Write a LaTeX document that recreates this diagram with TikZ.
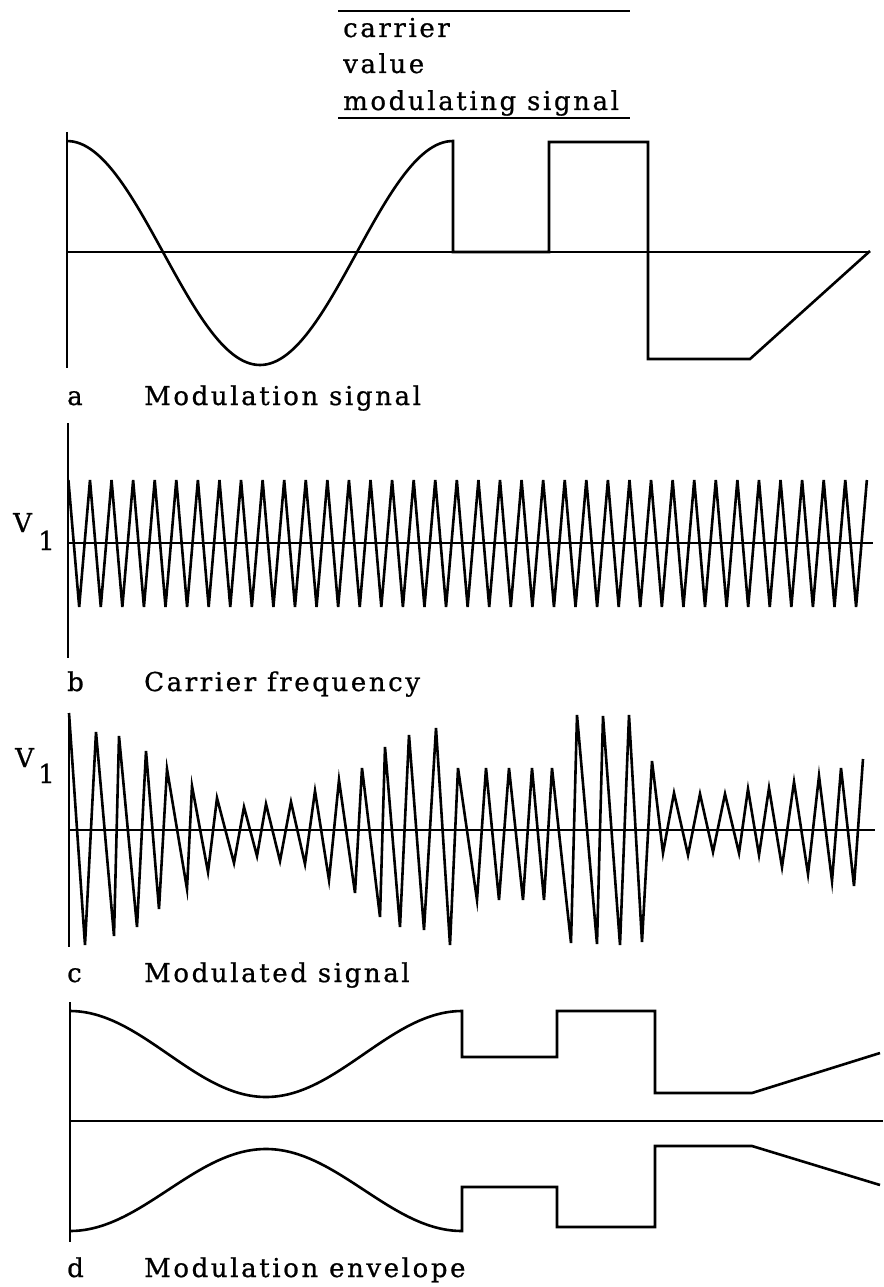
\documentclass[tikz,border=0pt]{standalone}
\usepackage{fontspec}
\setmainfont{DejaVu Serif}[LetterSpace=10,FakeBold=0.8]
\begin{document}
\begin{tikzpicture}[x=1pt,y=-1pt,
  lbl/.style={inner sep=0pt,anchor=base west,font=\fontsize{26}{30}\selectfont},
  axis/.style={line width=2.2pt},
  wave/.style={line width=2.6pt,line join=miter}]
\useasboundingbox (0,0) rectangle (883,1287);
% top legend
\draw[axis] (338,11) coordinate (ovl) -- (630,11) coordinate (ovr);
\node[lbl] (tcar) at (343,37) {carrier};
\node[lbl] (tval) at (343,73) {value};
\node[lbl] (tmod) at (343,110) {modulating signal};
\draw[axis] (338,118) coordinate (unl) -- (630,118) coordinate (unr);
% panel a
\draw[axis] (67,132) -- (67,368);
\draw[axis] (67,252) -- (870,252);
\draw[wave] plot[domain=67:453,samples=80,smooth] (\x,{253-112*cos((\x-67)*0.932642)})
  -- (453,252) -- (549,252) -- (549,142) -- (648,142) -- (648,359) -- (750,359) -- (870,251);
\node[lbl] (la) at (67,405) {a};
\node[lbl] (ta) at (144,405) {Modulation signal};
% panel b
\draw[axis] (68,423) -- (68,658);
\draw[axis] (68,543) -- (873,543);
\draw[wave] (68.4,480) \foreach \k in {0,...,36} { -- ({68.4+21.58*(\k+0.5)},607) -- ({68.4+21.58*(\k+1)},480) };
\node[lbl] (vb) at (13,532) {V};
\node[lbl] (vbs) at (38,550) {1};
\node[lbl] (lb) at (67,691) {b};
\node[lbl] (tb) at (144,691) {Carrier frequency};
% panel c
\draw[axis] (69,713) -- (69,947);
\draw[axis] (69,830) -- (875,830);
\draw[wave] (69,713) -- (85,945) -- (96,732) -- (114,936) -- (119,736) -- (137,927) -- (146,751) -- (159,909)
 -- (167,769) -- (187,889) -- (192,786) -- (208,872) -- (217,798) -- (234,863) -- (244,807) -- (257,856)
 -- (266,804) -- (280,861) -- (291,802) -- (305,864) -- (315,791) -- (329,880) -- (339,780) -- (355,893)
 -- (362,768) -- (380,917) -- (385,747) -- (400,927) -- (409,735) -- (424,930) -- (436,728) -- (450,945)
 -- (458,768) -- (477,900) -- (486,768) -- (499,900) -- (509,768) -- (523,900) -- (532,768) -- (544,900)
 -- (552,768) -- (571,943) -- (577,715) -- (597,944) -- (603,716) -- (620,945) -- (629,715) -- (642,942)
 -- (652,761) -- (663,853) -- (674,793) -- (688,855) -- (700,794) -- (713,852) -- (725,794) -- (739,853)
 -- (748,789) -- (759,855) -- (769,788) -- (782,867) -- (794,782) -- (808,874) -- (819,776) -- (832,881)
 -- (841,768) -- (854,886) -- (863,759);
\node[lbl] (vc) at (15,767) {V};
\node[lbl] (vcs) at (38,783) {1};
\node[lbl] (lc) at (67,982) {c};
\node[lbl] (tc) at (144,982) {Modulated signal};
% panel d
\draw[axis] (70,1002) -- (70,1242);
\draw[axis] (70,1121) -- (883,1121);
\draw[wave] plot[domain=70:462,samples=80,smooth] (\x,{1123-69-43*cos((\x-70)*0.918367)})
  -- (462,1057) -- (557,1057) -- (557,1011) -- (655,1011) -- (655,1093) -- (752,1093) -- (880,1053);
\draw[wave] plot[domain=70:462,samples=80,smooth] (\x,{1123+67+41*cos((\x-70)*0.918367)})
  -- (462,1187) -- (557,1187) -- (557,1227) -- (655,1227) -- (655,1146) -- (752,1146) -- (880,1185);
\node[lbl] (ld) at (67,1277) {d};
\node[lbl] (td) at (144,1277) {Modulation envelope};
\end{tikzpicture}
\end{document}
